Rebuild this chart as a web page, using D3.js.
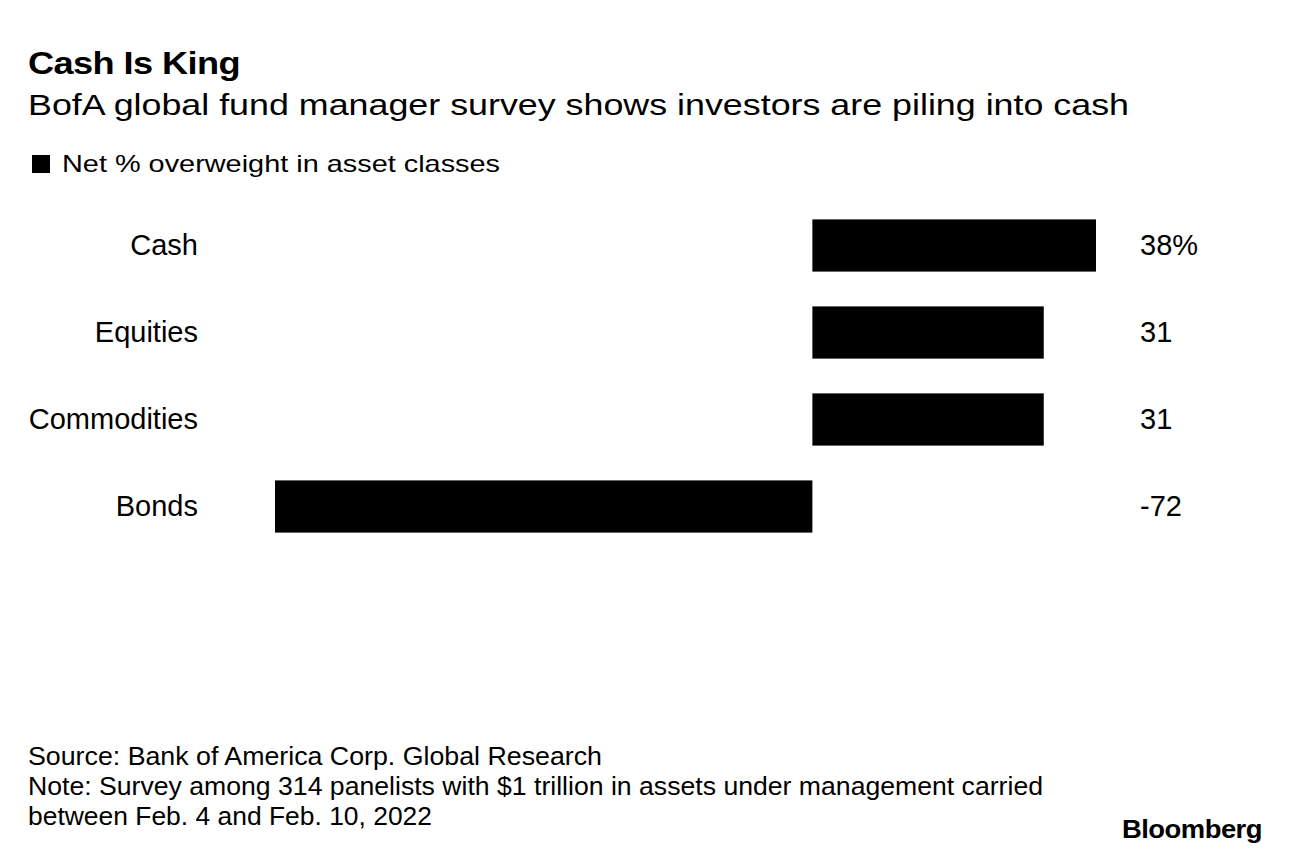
<!DOCTYPE html>
<html><head><meta charset="utf-8">
<script src="https://cdn.jsdelivr.net/npm/d3@7"></script>
<style>body{margin:0;background:#fff}svg{display:block}text{font-family:"Liberation Sans",Arial,Helvetica,sans-serif;fill:#000}</style>
</head><body>
<svg id="c" width="1289" height="856"></svg>
<script>
const categories = ["Cash","Equities","Commodities","Bonds"];
const values = [38,31,31,-72];
const valueLabels = ["38%","31","31","-72"];
const title = "Cash Is King";
const subtitle = "BofA global fund manager survey shows investors are piling into cash";
const legendLabel = "Net % overweight in asset classes";
const footer = ["Source: Bank of America Corp. Global Research","Note: Survey among 314 panelists with $1 trillion in assets under management carried","between Feb. 4 and Feb. 10, 2022"];

const svg = d3.select("#c");
const x = d3.scaleLinear().domain([-72,38]).range([275,1096]);
const y = d3.scaleBand().domain(categories).range([202,550]).paddingInner(0.4).paddingOuter(0.2);

function fit(sel, w){ const n=sel.node(); if(n.getComputedTextLength()>0) sel.attr("textLength",w).attr("lengthAdjust","spacingAndGlyphs"); }

fit(svg.append("text").attr("x",28).attr("y",74).attr("font-size",30.5).attr("font-weight","bold").attr("letter-spacing",-0.5).text(title),212);
fit(svg.append("text").attr("x",28).attr("y",115).attr("font-size",30).text(subtitle),1101);
svg.append("rect").attr("x",32).attr("y",155).attr("width",18).attr("height",18).attr("fill","#000");
fit(svg.append("text").attr("x",62).attr("y",172).attr("font-size",24).text(legendLabel),438);

const rows = svg.append("g").selectAll("g").data(categories).join("g");
rows.append("rect")
  .attr("x",(d,i)=>x(Math.min(0,values[i])))
  .attr("width",(d,i)=>Math.abs(x(values[i])-x(0)))
  .attr("y",d=>y(d)).attr("height",y.bandwidth()).attr("fill","#000");
rows.append("text").attr("x",198).attr("y",d=>y(d)+y.bandwidth()/2+9.5)
  .attr("text-anchor","end").attr("font-size",29).text(d=>d);
rows.append("text").attr("x",1140).attr("y",d=>y(d)+y.bandwidth()/2+9.5)
  .attr("font-size",29).text((d,i)=>valueLabels[i]);

const fw=[574,1015,404];
footer.forEach((t,i)=>{ fit(svg.append("text").attr("x",28).attr("y",765+30*i).attr("font-size",25).text(t),fw[i]); });
fit(svg.append("text").attr("x",1122).attr("y",838).attr("font-size",26).attr("font-weight","bold").attr("letter-spacing",-0.5).text("Bloomberg"),140);
</script>
</body></html>
